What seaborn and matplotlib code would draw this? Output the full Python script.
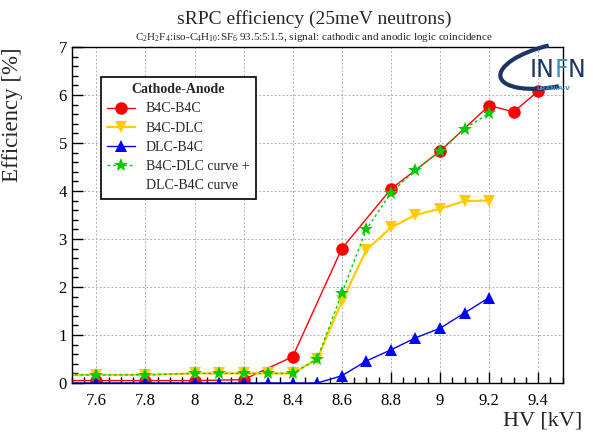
import numpy as np
import pandas as pd
import matplotlib
matplotlib.use("Agg")
import matplotlib.pyplot as plt
import seaborn as sns
from matplotlib.lines import Line2D
from matplotlib.patches import Arc

sns.set_theme(style="ticks")
plt.rcParams['font.family'] = ['Liberation Serif', 'DejaVu Serif']
plt.rcParams['mathtext.fontset'] = 'custom'
plt.rcParams['mathtext.rm'] = 'Liberation Serif'
plt.rcParams['mathtext.it'] = 'Liberation Serif:italic'

# data (HV in kV, efficiency in %)
hv_b4c_b4c = [7.4, 7.6, 7.8, 8.0, 8.2, 8.4, 8.6, 8.8, 9.0, 9.2, 9.3, 9.4]
eff_b4c_b4c = [0.05, 0.05, 0.05, 0.05, 0.07, 0.55, 2.8, 4.04, 4.83, 5.78, 5.65, 6.08]

hv_b4c_dlc = [7.4, 7.6, 7.8, 8.0, 8.1, 8.2, 8.3, 8.4, 8.5, 8.6, 8.7, 8.8, 8.9, 9.0, 9.1, 9.2]
eff_b4c_dlc = [0.17, 0.17, 0.17, 0.2, 0.2, 0.2, 0.2, 0.2, 0.5, 1.7, 2.77, 3.24, 3.5, 3.63, 3.79, 3.8]

hv_dlc_b4c = [7.4, 7.6, 7.8, 8.0, 8.1, 8.2, 8.3, 8.4, 8.5, 8.6, 8.7, 8.8, 8.9, 9.0, 9.1, 9.2]
eff_dlc_b4c = [0.0, 0.0, 0.0, 0.0, 0.0, 0.0, 0.0, 0.0, 0.0, 0.15, 0.46, 0.69, 0.94, 1.14, 1.46, 1.78]

hv_sum = [7.4, 7.6, 7.8, 8.0, 8.1, 8.2, 8.3, 8.4, 8.5, 8.6, 8.7, 8.8, 8.9, 9.0, 9.1, 9.2]
eff_sum = [0.17, 0.17, 0.17, 0.2, 0.2, 0.2, 0.2, 0.2, 0.5, 1.87, 3.2, 3.96, 4.44, 4.83, 5.3, 5.62]

fig = plt.figure(figsize=(5.93, 4.34), dpi=100)
ax = fig.add_axes([0.121, 0.1175, 0.828, 0.7742])

red, gold, blue, green = "#ff0000", "#ffcc00", "#0000ff", "#00cc00"

sns.lineplot(x=hv_b4c_b4c, y=eff_b4c_b4c, ax=ax, color=red, lw=1.0, marker="o",
             markersize=9, markeredgewidth=0, sort=False)
sns.lineplot(x=hv_b4c_dlc, y=eff_b4c_dlc, ax=ax, color=gold, lw=1.6, marker="v",
             markersize=9, markeredgewidth=0, sort=False)
sns.lineplot(x=hv_dlc_b4c, y=eff_dlc_b4c, ax=ax, color=blue, lw=1.0, marker="^",
             markersize=9, markeredgewidth=0, sort=False)
sns.lineplot(x=hv_sum, y=eff_sum, ax=ax, color=green, lw=1.0, ls=(0, (2, 2)), marker="*",
             markersize=10, markeredgewidth=0, sort=False)

ax.set_xlim(7.5, 9.5)
ax.set_ylim(0, 7)
ax.set_xticks([7.6, 7.8, 8.0, 8.2, 8.4, 8.6, 8.8, 9.0, 9.2, 9.4])
ax.set_xticklabels(["7.6", "7.8", "8", "8.2", "8.4", "8.6", "8.8", "9", "9.2", "9.4"])
ax.set_xticks(np.arange(7.5, 9.51, 0.05), minor=True)
ax.set_yticks(range(8))
ax.set_yticks(np.arange(0, 7.01, 0.2), minor=True)
ax.tick_params(which="both", direction="in", labelsize=12, colors="black")
ax.tick_params(which="major", length=8, width=1)
ax.tick_params(which="minor", length=4, width=1)
ax.tick_params(axis="x", pad=7)
ax.grid(True, which="major", ls=(0, (2, 2)), color="#b0b0b0", lw=0.7)
for s in ax.spines.values():
    s.set_color("black")
    s.set_linewidth(1.0)

ax.set_ylabel("Efficiency [%]", fontsize=16.5, loc="top")
ax.yaxis.set_label_coords(-0.1, 1.0)
ax.set_xlabel("HV [kV]", fontsize=16, loc="right")
ax.xaxis.set_label_coords(1.04, -0.085)

fig.text(0.53, 0.957, "sRPC efficiency (25meV neutrons)", ha="center", va="center", fontsize=14)
fig.text(0.53, 0.913,
         r"C$_2$H$_2$F$_4$:iso-C$_4$H$_{10}$:SF$_6$ 93.5:5:1.5, signal: cathodic and anodic logic coincidence",
         ha="center", va="center", fontsize=8)

handles = [
    Line2D([], [], color=red, lw=1.0, marker="o", markersize=9, markeredgewidth=0),
    Line2D([], [], color=gold, lw=1.6, marker="v", markersize=9, markeredgewidth=0),
    Line2D([], [], color=blue, lw=1.0, marker="^", markersize=9, markeredgewidth=0),
    Line2D([], [], color=green, lw=1.0, ls=(0, (2, 2)), marker="*", markersize=10, markeredgewidth=0),
    Line2D([], [], color="none"),
]
labels = ["B4C-B4C", "B4C-DLC", "DLC-B4C", "B4C-DLC curve +", "DLC-B4C curve"]
leg = ax.legend(handles, labels, title="Cathode-Anode", loc="upper left",
                bbox_to_anchor=(0.059, 0.911), fontsize=10, title_fontproperties={"weight": "bold", "size": 10},
                frameon=True, fancybox=False, edgecolor="black", framealpha=1,
                handlelength=2.0, handletextpad=0.8, labelspacing=0.45, borderpad=0.45,
                borderaxespad=0)
leg.get_frame().set_linewidth(1.2)

# logo
fig.patches.append(Arc((0.94, 0.85), 0.2, 0.095, angle=18, theta1=90, theta2=255,
                       transform=fig.transFigure, color="#1b3564", lw=3))
fig.text(0.935, 0.838, "IN", color="#1b3564", fontsize=17, family="DejaVu Sans", ha="right", va="center")
fig.text(0.935, 0.838, "F", color="#3a93bf", fontsize=17, family="DejaVu Sans", ha="left", va="center")
fig.text(0.958, 0.838, "N", color="#1b3564", fontsize=17, family="DejaVu Sans", ha="left", va="center")
fig.text(0.905, 0.797, "uRANIA-V", color="#3a93bf", fontsize=4.5, family="DejaVu Sans",
         weight="bold", ha="left", va="center")

fig.savefig("out.png", dpi=100)
